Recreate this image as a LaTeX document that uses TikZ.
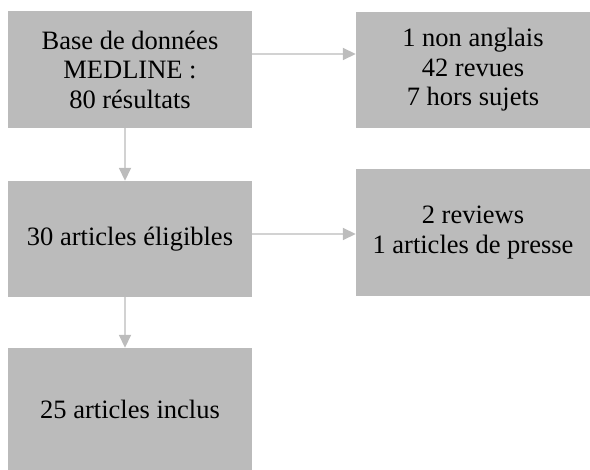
\documentclass[tikz,border=0pt]{standalone}
\usepackage{fontspec}
\setmainfont{Liberation Serif}
\usetikzlibrary{arrows.meta}

\definecolor{boxgray}{RGB}{187,187,187}
\definecolor{linegray}{RGB}{210,210,210}
\definecolor{tipgray}{RGB}{188,188,188}

\tikzset{
	box/.style={fill=boxgray, draw=none, align=center, inner sep=0pt,
		font=\fontsize{26.5}{29.5}\selectfont},
	fleche/.style={draw=linegray, line width=1.8pt,
		-{Triangle[length=13pt, width=12pt, fill=tipgray, color=tipgray]}}
}

\begin{document}
\begin{tikzpicture}[x=1pt, y=-1pt]
		\useasboundingbox (0,0) rectangle (590,470);

		\node[box, minimum width=244pt, minimum height=117pt] (base) at (130,69.5) {Base de données\\MEDLINE :\\80 résultats};
		\node[box, minimum width=234pt, minimum height=116pt] (exclus1) at (473,70) {1 non anglais\\42 revues\\7 hors sujets};
		\node[box, minimum width=244pt, minimum height=116pt] (eligibles) at (130,239) {30 articles éligibles};
		\node[box, minimum width=234pt, minimum height=127pt] (exclus2) at (473,232.5) {2 reviews\\1 articles de presse};
		\node[box, minimum width=244pt, minimum height=122pt] (inclus) at (130,409) {25 articles inclus};

		\draw[fleche] ([xshift=-5pt]base.south) to ([xshift=-5pt]eligibles.north);
		\draw[fleche] ([xshift=-5pt]eligibles.south) to ([xshift=-5pt]inclus.north);

		\draw[fleche] ([yshift=15.5pt]base.east) to ([yshift=15.5pt]base.east -| exclus1.west);
		\draw[fleche] ([yshift=5pt]eligibles.east) to ([yshift=5pt]eligibles.east -| exclus2.west);

	\end{tikzpicture}
\end{document}
